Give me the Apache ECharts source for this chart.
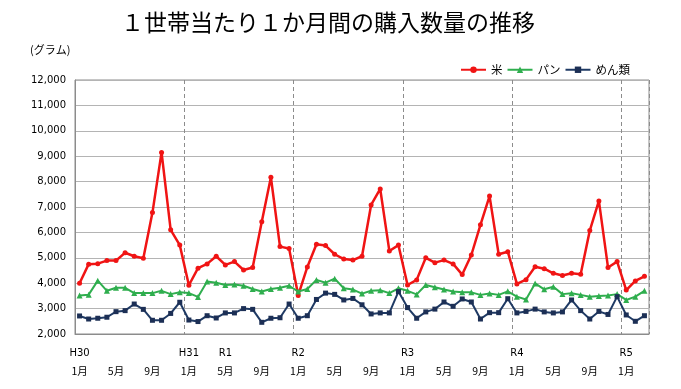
<!DOCTYPE html>
<html>
<head>
<meta charset="utf-8">
<script src="https://cdn.jsdelivr.net/npm/echarts@6/dist/echarts.min.js"></script>
<style>
html,body{margin:0;padding:0;background:#fff;}
#chart{width:681px;height:389px;}
</style>
</head>
<body>
<div id="chart"></div>
<script>
// ---- data ----
const years = [2018, 2019, 2020, 2021, 2022, 2023];
const monthNames = ['1月','2月','3月','4月','5月','6月','7月','8月','9月','10月','11月','12月'];
const lastYearMonths = 3;

const rice = [
  4000,4750,4770,4890,4890,5200,5060,4980,6780,9150,6100,5500,
  3920,4590,4760,5060,4720,4850,4520,4620,6420,8170,5440,5370,
  3520,4640,5530,5480,5140,4950,4910,5060,7080,7710,5270,5500,
  3930,4130,5000,4810,4910,4760,4340,5110,6300,7430,5140,5240,
  3970,4140,4650,4570,4390,4300,4390,4350,6070,7240,4620,4850,
  3730,4090,4270
];
const bread = [
  3520,3550,4100,3700,3820,3820,3610,3610,3610,3700,3570,3640,
  3610,3460,4070,4020,3930,3950,3900,3770,3670,3770,3820,3900,
  3670,3770,4130,4020,4180,3800,3750,3590,3700,3720,3610,3800,
  3700,3560,3930,3840,3750,3670,3640,3640,3540,3590,3540,3680,
  3470,3360,3990,3760,3860,3570,3600,3540,3470,3500,3520,3570,
  3340,3470,3700
];
const noodles = [
  2710,2590,2620,2660,2880,2920,3180,2970,2540,2540,2810,3250,
  2550,2490,2720,2630,2830,2830,3000,2970,2460,2620,2640,3180,
  2620,2720,3360,3610,3560,3340,3400,3150,2790,2830,2830,3670,
  3040,2620,2870,2980,3260,3090,3380,3260,2590,2840,2840,3390,
  2830,2890,2980,2870,2830,2870,3340,2920,2590,2890,2770,3470,
  2750,2500,2720
];
const eraIndex = [0, 12, 16, 24, 36, 48, 60];
const eraText  = ['H30','H31','R1','R2','R3','R4','R5'];
const shownMonths = ['1月','5月','9月'];
const yTicks = [2000, 12000, 1000]; // min, max, interval
const seriesNames = ['米','パン','めん類'];

// ---- build categories ----
const categories = [];
years.forEach((y, yi) => {
  const n = (yi === years.length - 1) ? lastYearMonths : 12;
  for (let m = 0; m < n; m++) categories.push(y + '-' + monthNames[m]);
});

const chart = echarts.init(document.getElementById('chart'), null, {renderer: 'canvas'});
const option = {
  animation: false,
  backgroundColor: '#fff',
  title: {
    text: '１世帯当たり１か月間の購入数量の推移',
    left: 116, top: 6,
    textStyle: {fontFamily: '"Noto Sans CJK JP", sans-serif', fontSize: 23, fontWeight: 'normal', color: '#000'}
  },
  graphic: [{
    type: 'text', left: 30, top: 44,
    style: {text: '(グラム)', font: '11px "Noto Sans CJK JP", sans-serif', fill: '#000'}
  }],
  legend: {
    right: 46, top: 59,
    itemWidth: 25, itemHeight: 8, itemGap: 4,
    textStyle: {fontFamily: '"Noto Sans CJK JP", sans-serif', fontSize: 11.5, color: '#000'},
    data: seriesNames
  },
  grid: {left: 75, right: 32, top: 80, bottom: 55, show: true, borderColor: '#8c8c8c', borderWidth: 1},
  xAxis: {
    type: 'category',
    data: categories,
    boundaryGap: true,
    axisLine: {lineStyle: {color: '#8c8c8c'}},
    axisTick: {show: false},
    splitLine: {
      show: true,
      interval: function (idx) { return idx % 12 === 0 && idx > 0; },
      lineStyle: {color: '#8c8c8c', type: [4, 3], width: 1}
    },
    axisLabel: {
      interval: function (idx) { return idx % 4 === 0; },
      margin: 10,
      formatter: function (val, idx) {
        const k = eraIndex.indexOf(idx);
        const era = k >= 0 ? eraText[k] : ' ';
        const m = monthNames[idx % 12];
        return '{a|' + era + '}\n{b|' + (shownMonths.indexOf(m) >= 0 ? m : '') + '}';
      },
      rich: {
        a: {fontFamily: '"DejaVu Sans", sans-serif', fontSize: 10, color: '#000', lineHeight: 18},
        b: {fontFamily: '"Noto Sans CJK JP", sans-serif', fontSize: 10.5, color: '#000', lineHeight: 18}
      }
    }
  },
  yAxis: {
    type: 'value',
    min: yTicks[0], max: yTicks[1], interval: yTicks[2],
    axisLine: {show: true, lineStyle: {color: '#8c8c8c'}},
    axisTick: {show: false},
    axisLabel: {
      margin: 9,
      fontFamily: '"DejaVu Sans", sans-serif', fontSize: 10, color: '#000',
      formatter: v => v.toLocaleString('en-US')
    },
    splitLine: {lineStyle: {color: '#b4b4b4', width: 1}}
  },
  series: [
    {
      name: seriesNames[0], type: 'line', data: rice,
      symbol: 'circle', symbolSize: 5,
      itemStyle: {color: '#f01414'},
      lineStyle: {color: '#f01414', width: 2.5}
    },
    {
      name: seriesNames[1], type: 'line', data: bread,
      symbol: 'triangle', symbolSize: 6,
      itemStyle: {color: '#2fae4e'},
      lineStyle: {color: '#2fae4e', width: 2}
    },
    {
      name: seriesNames[2], type: 'line', data: noodles,
      symbol: 'rect', symbolSize: 5,
      itemStyle: {color: '#1c2f55'},
      lineStyle: {color: '#1f3a64', width: 2}
    }
  ]
};
chart.setOption(option);
</script>
</body>
</html>
